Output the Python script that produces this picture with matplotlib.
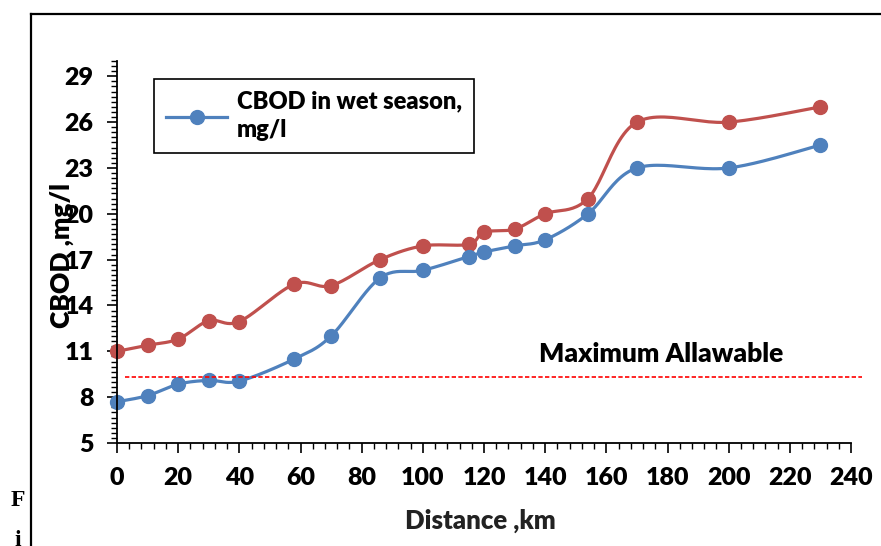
import numpy as np
import matplotlib
matplotlib.use("Agg")
import matplotlib.pyplot as plt
from matplotlib.lines import Line2D
from matplotlib.ticker import MultipleLocator

# values
distance = [0, 10, 20, 30, 40, 58, 70, 86, 100, 115, 120, 130, 140, 154, 170, 200, 230]
cbod_wet = [7.7, 8.1, 8.85, 9.1, 9.05, 10.5, 12.0, 15.8, 16.3, 17.2, 17.5, 17.9, 18.3, 20.0, 23.0, 23.0, 24.5]
cbod_dry = [11.0, 11.4, 11.8, 13.0, 12.95, 15.4, 15.3, 17.0, 17.9, 18.0, 18.8, 19.0, 20.0, 21.0, 26.0, 26.0, 27.0]
max_allowable = 9.3
x_ticks = list(range(0, 241, 20))
y_ticks = list(range(5, 30, 3))

blue = "#4F81BD"
red = "#C0504D"
W = 'heavy'
plt.rcParams['font.family'] = ['Lato', 'DejaVu Sans']
plt.rcParams['font.weight'] = W


def smooth(ax, xs, ys, n=25):
    # Excel-style smoothed line: cubic Bezier through points, computed in pixel space
    pts = ax.transData.transform(np.column_stack([xs, ys]))
    p = np.vstack([pts[0], pts, pts[-1]])
    t = np.linspace(0, 1, n)[:, None]
    out = []
    for i in range(1, len(p) - 2):
        p0, p3 = p[i], p[i + 1]
        p1 = p0 + (p[i + 1] - p[i - 1]) / 6
        p2 = p3 - (p[i + 2] - p[i]) / 6
        out.append((1 - t) ** 3 * p0 + 3 * (1 - t) ** 2 * t * p1
                   + 3 * (1 - t) * t ** 2 * p2 + t ** 3 * p3)
    return ax.transData.inverted().transform(np.vstack(out))


fig = plt.figure(figsize=(8.81, 5.46), dpi=100)
ax = fig.add_axes([117 / 881, 103 / 546, 734 / 881, 382 / 546])
ax.set_xlim(0, 240)
ax.set_ylim(5, 30)

for ys, c in [(cbod_dry, red), (cbod_wet, blue)]:
    curve = smooth(ax, distance, ys)
    ax.plot(curve[:, 0], curve[:, 1], color=c, lw=2.3, clip_on=False)
    ax.plot(distance, ys, 'o', color=c, ms=10, clip_on=False)

ax.plot([2.5, 243.5], [max_allowable, max_allowable], color='red', lw=1.2,
        dashes=(2.6, 1.4), clip_on=False)
ax.text(138, 10.8, 'Maximum Allawable', fontsize=19, fontweight=W,
        ha='left', va='center')

# spines and ticks
for s in ['top', 'right']:
    ax.spines[s].set_visible(False)
for s in ['left', 'bottom']:
    ax.spines[s].set_linewidth(1.3)
ax.set_xticks(x_ticks)
ax.set_yticks(y_ticks)
ax.xaxis.set_minor_locator(MultipleLocator(4))
ax.yaxis.set_minor_locator(MultipleLocator(1 / 3))
ax.tick_params(which='major', length=7, width=1.2, labelsize=18, pad=10)
ax.tick_params(which='minor', length=4, width=1.0)

ax.set_xlabel('Distance ,km', fontsize=18.5, fontweight=W, color='#222222')
ax.xaxis.label.set_va('center')
ax.xaxis.set_label_coords(0.4946, -0.204)
ax.set_ylabel('CBOD ,mg/l', fontsize=19, fontweight=W)
ax.yaxis.label.set_va('center')
ax.yaxis.set_label_coords(-0.075, 0.492)

handle = Line2D([], [], color=blue, lw=2.3, marker='o', ms=10)
leg = ax.legend([handle], ['CBOD in wet season,\nmg/l'], loc='upper left',
                bbox_to_anchor=(154 / 881, 1 - 79 / 546), bbox_transform=fig.transFigure,
                fancybox=False, framealpha=1, edgecolor='black',
                handlelength=2.6, borderpad=0.5, handletextpad=0.4, borderaxespad=0,
                prop={'weight': W, 'size': 17})
leg.get_texts()[0].set_linespacing(1.35)
leg.get_frame().set_linewidth(1.2)

# page frame and cut-off caption letters
fig.add_artist(Line2D([31 / 881, 31 / 881], [1 - 14 / 546, 0], color='black', lw=1.6))
fig.add_artist(Line2D([31 / 881, 1], [1 - 14 / 546, 1 - 14 / 546], color='black', lw=1.6))
fig.text(18 / 881, 1 - 500 / 546, 'F', family='Liberation Serif', fontweight='bold',
         fontsize=17, ha='center', va='center')
fig.text(18 / 881, 1 - 540 / 546, 'i', family='Liberation Serif', fontweight='bold',
         fontsize=17, ha='center', va='center')

fig.savefig('out.png', dpi=100)
